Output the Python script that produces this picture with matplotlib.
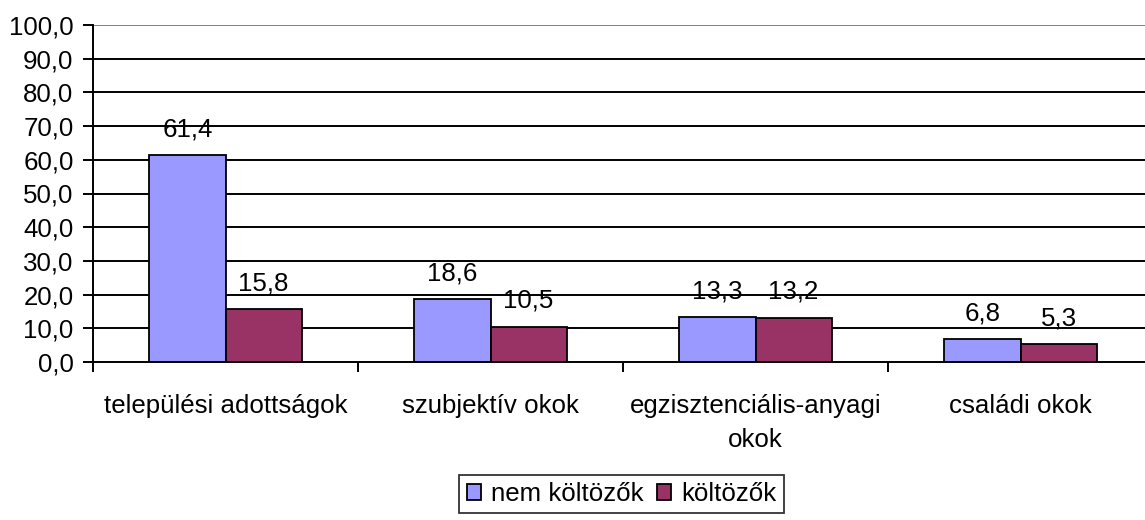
import numpy as np
import matplotlib
matplotlib.use("Agg")
import matplotlib.pyplot as plt

plt.rcParams['font.family'] = ['Liberation Sans', 'DejaVu Sans']

categories = ["települési adottságok", "szubjektív okok",
              "egzisztenciális-anyagi\nokok", "családi okok"]
nem_koltozok = [61.4, 18.6, 13.3, 6.8]
koltozok = [15.8, 10.5, 13.2, 5.3]
series_names = ["nem költözők", "költözők"]

W, H = 1145, 520
fs = 18.6

fig = plt.figure(figsize=(W / 100, H / 100), dpi=100)
# plot area runs slightly past the right edge of the figure
ax = fig.add_axes([93 / W, 1 - 362 / H, (1153 - 93) / W, (362 - 25) / H])

x = np.arange(len(categories))
w = 0.287
b1 = ax.bar(x - w / 2, nem_koltozok, w, color="#9999ff", edgecolor="black", linewidth=1.3,
            label=series_names[0], zorder=3)
b2 = ax.bar(x + w / 2, koltozok, w, color="#993366", edgecolor="black", linewidth=1.3,
            label=series_names[1], zorder=3)

for bars, vals in ((b1, nem_koltozok), (b2, koltozok)):
    for rect, v in zip(bars, vals):
        ax.annotate(f"{v:.1f}".replace(".", ","),
                    (rect.get_x() + rect.get_width() / 2, v),
                    xytext=(0, 13.5), textcoords="offset points",
                    ha="center", va="baseline", fontsize=fs, zorder=4)

ax.set_xlim(-0.5, len(categories) - 0.5)
ax.set_ylim(0, 100)
yt = np.arange(0, 101, 10)
ax.set_yticks(yt)
ax.set_yticklabels([f"{t:.1f}".replace(".", ",") for t in yt], fontsize=fs)
for t in yt[1:-1]:
    ax.axhline(t, color="black", linewidth=1.4, zorder=1)
ax.axhline(100, color="#808080", linewidth=1.4, zorder=1)

ax.set_xticks(np.arange(-0.5, len(categories), 1.0))
ax.set_xticklabels([])
ax.set_xticks(x, minor=True)
ax.set_xticklabels(categories, minor=True, fontsize=fs, va="top", linespacing=1.55)
ax.tick_params(axis="x", which="minor", length=0, pad=23)
ax.tick_params(axis="x", which="major", length=7, width=1.4, direction="out")
ax.tick_params(axis="y", length=7, width=1.4, direction="out", pad=7)

for s in ("top", "right"):
    ax.spines[s].set_visible(False)
ax.spines["left"].set_linewidth(1.4)
ax.spines["bottom"].set_linewidth(1.4)
ax.spines["bottom"].set_zorder(5)

leg = fig.legend(handles=[b1, b2], loc="center", bbox_to_anchor=(621.5 / W, 1 - 494 / H),
                 ncol=2, fontsize=fs, frameon=True, fancybox=False, edgecolor="black",
                 handlelength=0.55, handleheight=0.55, handletextpad=0.4, columnspacing=0.5,
                 borderpad=0.28, borderaxespad=0)
leg.get_frame().set_linewidth(1.3)

fig.savefig("out.png", dpi=100)
